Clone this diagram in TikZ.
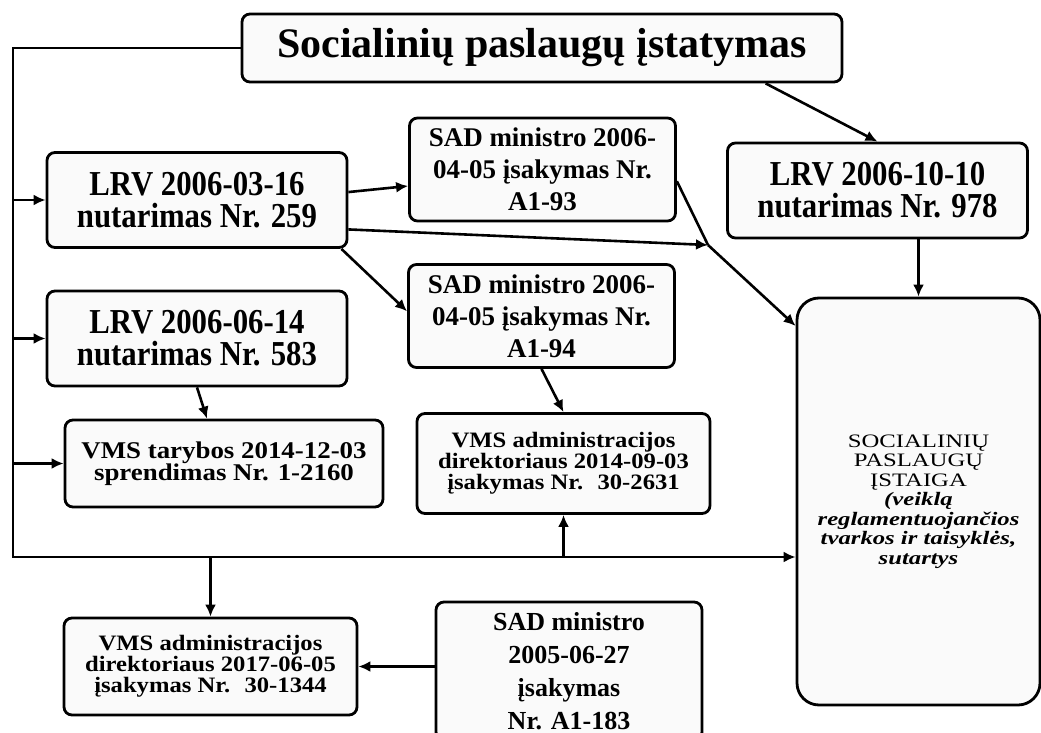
\documentclass[tikz,border=0pt]{standalone}
\usepackage{fontspec}
\setmainfont{Liberation Serif}
\newfontfamily\lrvfont[FakeStretch=0.88]{Liberation Serif}
\newfontfamily\vmsfont[FakeStretch=1.12]{Liberation Serif}
\newfontfamily\instfont[FakeStretch=1.3]{Liberation Serif}
\usetikzlibrary{arrows.meta}

\begin{document}
\begin{tikzpicture}
	[%
	x=1pt, y=-1pt, >={Latex[length=12pt,width=11pt]},%
	box/.style  ={draw, line width=2.8pt, rounded corners=8pt, fill=black!2, inner sep=0pt, align=center},%
	law/.style  ={box, minimum width=600pt, minimum height=68pt, font=\fontsize{42}{50}\selectfont\bfseries},%
	lrv/.style  ={box, minimum width=300pt, minimum height=95pt, font=\fontsize{35}{32}\selectfont\lrvfont\bfseries},%
	sad/.style  ={box, minimum width=266pt, minimum height=103pt, font=\fontsize{27}{32}\selectfont\bfseries},%
	vms/.style  ={box, minimum width=293pt, minimum height=100pt, font=\fontsize{22}{21}\selectfont\vmsfont\bfseries},%
	inst/.style ={box, rounded corners=22pt, minimum width=243pt, minimum height=407pt, font=\fontsize{19}{19.5}\selectfont\instfont},%
	link/.style ={line width=2.6pt},%
	]

	\newcommand\xbus{13}
	\newcommand{\ybus}{557}

	\useasboundingbox (0,0) rectangle (1041,733);

	% nodes
	\node (law)  at (542,48)      [law] {Socialinių paslaugų įstatymas};
	% LRV
	\node (lrvA) at (197,200)     [lrv] {LRV 2006-03-16\\nutarimas Nr. 259};
	\node (lrvB) at (197,338.5)   [lrv] {LRV 2006-06-14\\nutarimas Nr. 583};
	\node (lrvC) at (877.5,190.5) [lrv] {LRV 2006-10-10\\nutarimas Nr. 978};
	% SAD
	\node (sadA) at (542.5,169.5) [sad] {SAD ministro 2006-\\04-05 įsakymas Nr.\\A1-93};
	\node (sadB) at (541.5,316)   [sad] {SAD ministro 2006-\\04-05 įsakymas Nr.\\A1-94};
	\node (sadC) at (569,671)     [sad, minimum height=138pt, font=\fontsize{26}{33}\selectfont\bfseries]
		{SAD ministro\\2005-06-27\\įsakymas\\Nr. A1-183};
	% VMS
	\node (vmsT) at (224,463.5)   [vms, minimum width=318pt, minimum height=87pt, font=\fontsize{24}{22}\selectfont\vmsfont\bfseries]
		{VMS tarybos 2014-12-03\\sprendimas Nr. 1-2160};
	\node (vmsA) at (563.5,463.5) [vms] {VMS administracijos\\direktoriaus 2014-09-03\\įsakymas Nr.~ 30-2631};
	\node (vmsB) at (210.5,666.5) [vms, minimum height=97pt] {VMS administracijos\\direktoriaus 2017-06-05\\įsakymas Nr.~ 30-1344};
	% institution
	\node (inst) at (918.5,501.5) [inst] {SOCIALINIŲ\\PASLAUGŲ\\ĮSTAIGA\\\textbf{\textit{(veiklą}}\\%
		\textbf{\textit{reglamentuojančios}}\\\textbf{\textit{tvarkos ir taisyklės,}}\\\textbf{\textit{sutartys}}};

	\coordinate (busTop) at (\xbus,48);
	\coordinate (busBot) at (\xbus,\ybus);
	\coordinate (join)   at (708,245);

	% interconnections
	% bus
	\draw [link, ->] (law.west) -- (busTop) -- (busBot) -- (busBot -| inst.west);
	\foreach \n in {lrvA, lrvB, vmsT}
		\draw [link, ->] (busTop |- \n.west) -- (\n.west);
	\draw [link, ->] (busBot -| vmsA.south) -- (vmsA.south);
	\draw [link, ->] (busBot -| vmsB.north) -- (vmsB.north);

	% law to LRV 978 to institution
	\draw [link, ->] (law.-9) -- (lrvC.north);
	\draw [link, ->] (lrvC.south -| inst.north) -- (inst.north);

	% LRV 259
	\draw [link, ->] (lrvA.3) -- (sadA.187);
	\draw [link, ->] ([xshift=-7pt]lrvA.south east) -- (sadB.178);
	\draw [link, ->] (lrvA.-11) -- (join);
	\draw [link]     (sadA.-5) -- (join);
	\draw [link, ->] (join) -- (inst.125);

	% down the tree
	\draw [link, ->] (lrvB.south) -- ([xshift=-17pt]vmsT.north);
	\draw [link, ->] (sadB.south) -- (vmsA.north);
	\draw [link, ->] (sadC.west |- vmsB.east) -- (vmsB.east);

\end{tikzpicture}
\end{document}
